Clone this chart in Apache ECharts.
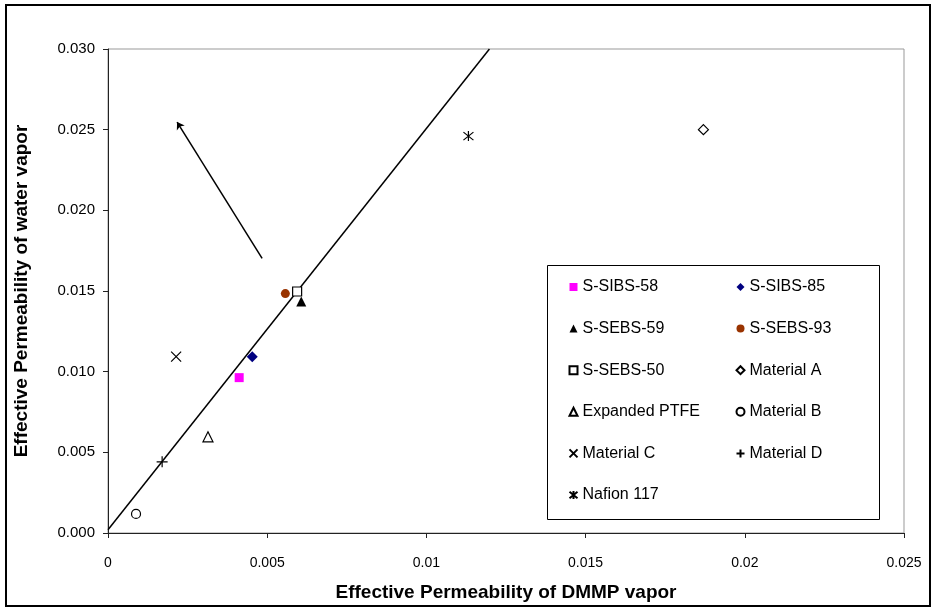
<!DOCTYPE html>
<html>
<head>
<meta charset="utf-8">
<script src="https://cdn.jsdelivr.net/npm/echarts@6/dist/echarts.min.js"></script>
<style>html,body{margin:0;padding:0;background:#fff}#chart{width:933px;height:609px}</style>
</head>
<body>
<div id="chart"></div>
<script>
var xTickLabels = ['0', '0.005', '0.01', '0.015', '0.02', '0.025'];
var yTickLabels = ['0.000', '0.005', '0.010', '0.015', '0.020', '0.025', '0.030'];

// measured points: [DMMP permeability, water vapor permeability]
var sSibs58 = [[0.00412, 0.00963]];
var sSibs85 = [[0.00453, 0.01093]];
var sSebs59 = [[0.00607, 0.01435]];
var sSebs93 = [[0.00557, 0.01484]];
var sSebs50 = [[0.00594, 0.01497]];
var materialA = [[0.0187, 0.0250]];
var ePtfe = [[0.00314, 0.00596]];
var materialB = [[0.00088, 0.00118]];
var materialC = [[0.00214, 0.01093]];
var materialD = [[0.0017, 0.00441]];
var nafion117 = [[0.01132, 0.0246]];

var fitLine = [[0, 0.0002], [0.01198, 0.030]];
var arrowLine = [[0.00484, 0.01702], [0.00217, 0.02547]];

var font = 'Liberation Sans, Arial, sans-serif';
var crossPath = 'path://M0,0L10,10M10,0L0,10';
var plusPath = 'path://M5,0L5,10M0,5L10,5';
var starPath = 'path://M0,1L10,9M10,1L0,9M5,0L5,10';

function pts(name, data, symbol, size, fill, stroke) {
    return {
        name: name,
        type: 'scatter',
        data: data,
        symbol: symbol,
        symbolSize: size,
        z: 5,
        itemStyle: { color: fill, borderColor: stroke, borderWidth: stroke ? 1.2 : 0, opacity: 1 }
    };
}

var legendText = { fontSize: 16, lineHeight: 16, color: '#000', fontFamily: font };

var myChart = echarts.init(document.getElementById('chart'));
var option = {
    animation: false,
    textStyle: { fontFamily: font },
    grid: {
        left: 108, right: 29, top: 49, bottom: 76,
        show: true, borderColor: '#999', borderWidth: 1
    },
    xAxis: {
        type: 'value', min: 0, max: 0.025, interval: 0.005,
        name: 'Effective Permeability of DMMP vapor',
        nameLocation: 'middle', nameGap: 50,
        nameTextStyle: { fontSize: 19, fontWeight: 'bold', color: '#000', fontFamily: font },
        splitLine: { show: false },
        axisLine: { lineStyle: { color: '#222', width: 1 } },
        axisTick: { length: 5, lineStyle: { color: '#222' } },
        axisLabel: {
            fontSize: 14, color: '#000', margin: 23, fontFamily: font,
            formatter: function (v) { return xTickLabels[Math.round(v / 0.005)]; }
        }
    },
    yAxis: {
        type: 'value', min: 0, max: 0.030, interval: 0.005,
        name: 'Effective Permeability of water vapor',
        nameLocation: 'middle', nameGap: 77,
        nameTextStyle: { fontSize: 19, fontWeight: 'bold', color: '#000', fontFamily: font },
        splitLine: { show: false },
        axisLine: { lineStyle: { color: '#222', width: 1 } },
        axisTick: { length: 5, lineStyle: { color: '#222' } },
        axisLabel: {
            fontSize: 15, color: '#000', margin: 13, fontFamily: font,
            formatter: function (v) { return yTickLabels[Math.round(v / 0.005)]; }
        }
    },
    legend: [{
        orient: 'vertical', left: 567, top: 279, padding: 0,
        itemWidth: 8, itemHeight: 8, itemGap: 25.6,
        textStyle: legendText,
        data: ['S-SIBS-58', 'S-SEBS-59', 'S-SEBS-50', 'Expanded PTFE', 'Material C', 'Nafion 117']
    }, {
        orient: 'vertical', left: 734, top: 279, padding: 0,
        itemWidth: 8, itemHeight: 8, itemGap: 25.6,
        textStyle: legendText,
        data: ['S-SIBS-85', 'S-SEBS-93', 'Material A', 'Material B', 'Material D']
    }],
    graphic: [{
        type: 'rect', z: 1,
        shape: { x: 6, y: 5, width: 924, height: 601 },
        style: { fill: 'none', stroke: '#000', lineWidth: 2 }
    }, {
        type: 'rect', z: 1,
        shape: { x: 547.5, y: 265.5, width: 332, height: 254 },
        style: { fill: 'none', stroke: '#000', lineWidth: 1 }
    }],
    series: [
        {
            name: 'fit', type: 'line', data: fitLine, symbol: 'none', silent: true, z: 3,
            lineStyle: { color: '#000', width: 1.5 },
            markLine: {
                silent: true, symbol: ['none', 'arrow'], symbolSize: 7,
                label: { show: false },
                lineStyle: { color: '#000', type: 'solid', width: 1.5 },
                data: [[{ coord: arrowLine[0] }, { coord: arrowLine[1] }]]
            }
        },
        pts('S-SIBS-58', sSibs58, 'rect', 9, '#FF00FF'),
        pts('S-SIBS-85', sSibs85, 'diamond', 11, '#000080'),
        pts('S-SEBS-59', sSebs59, 'triangle', 10, '#000'),
        pts('S-SEBS-93', sSebs93, 'circle', 9, '#993300'),
        pts('S-SEBS-50', sSebs50, 'rect', 9, '#fff', '#000'),
        pts('Material A', materialA, 'diamond', 10, '#fff', '#000'),
        pts('Expanded PTFE', ePtfe, 'triangle', 10, '#fff', '#000'),
        pts('Material B', materialB, 'circle', 9, '#fff', '#000'),
        pts('Material C', materialC, crossPath, 10, 'none', '#000'),
        pts('Material D', materialD, plusPath, 11, 'none', '#000'),
        pts('Nafion 117', nafion117, starPath, 10, 'none', '#000')
    ]
};
myChart.setOption(option);

window.onresize = function () {
    myChart.resize();
};
</script>
</body>
</html>
